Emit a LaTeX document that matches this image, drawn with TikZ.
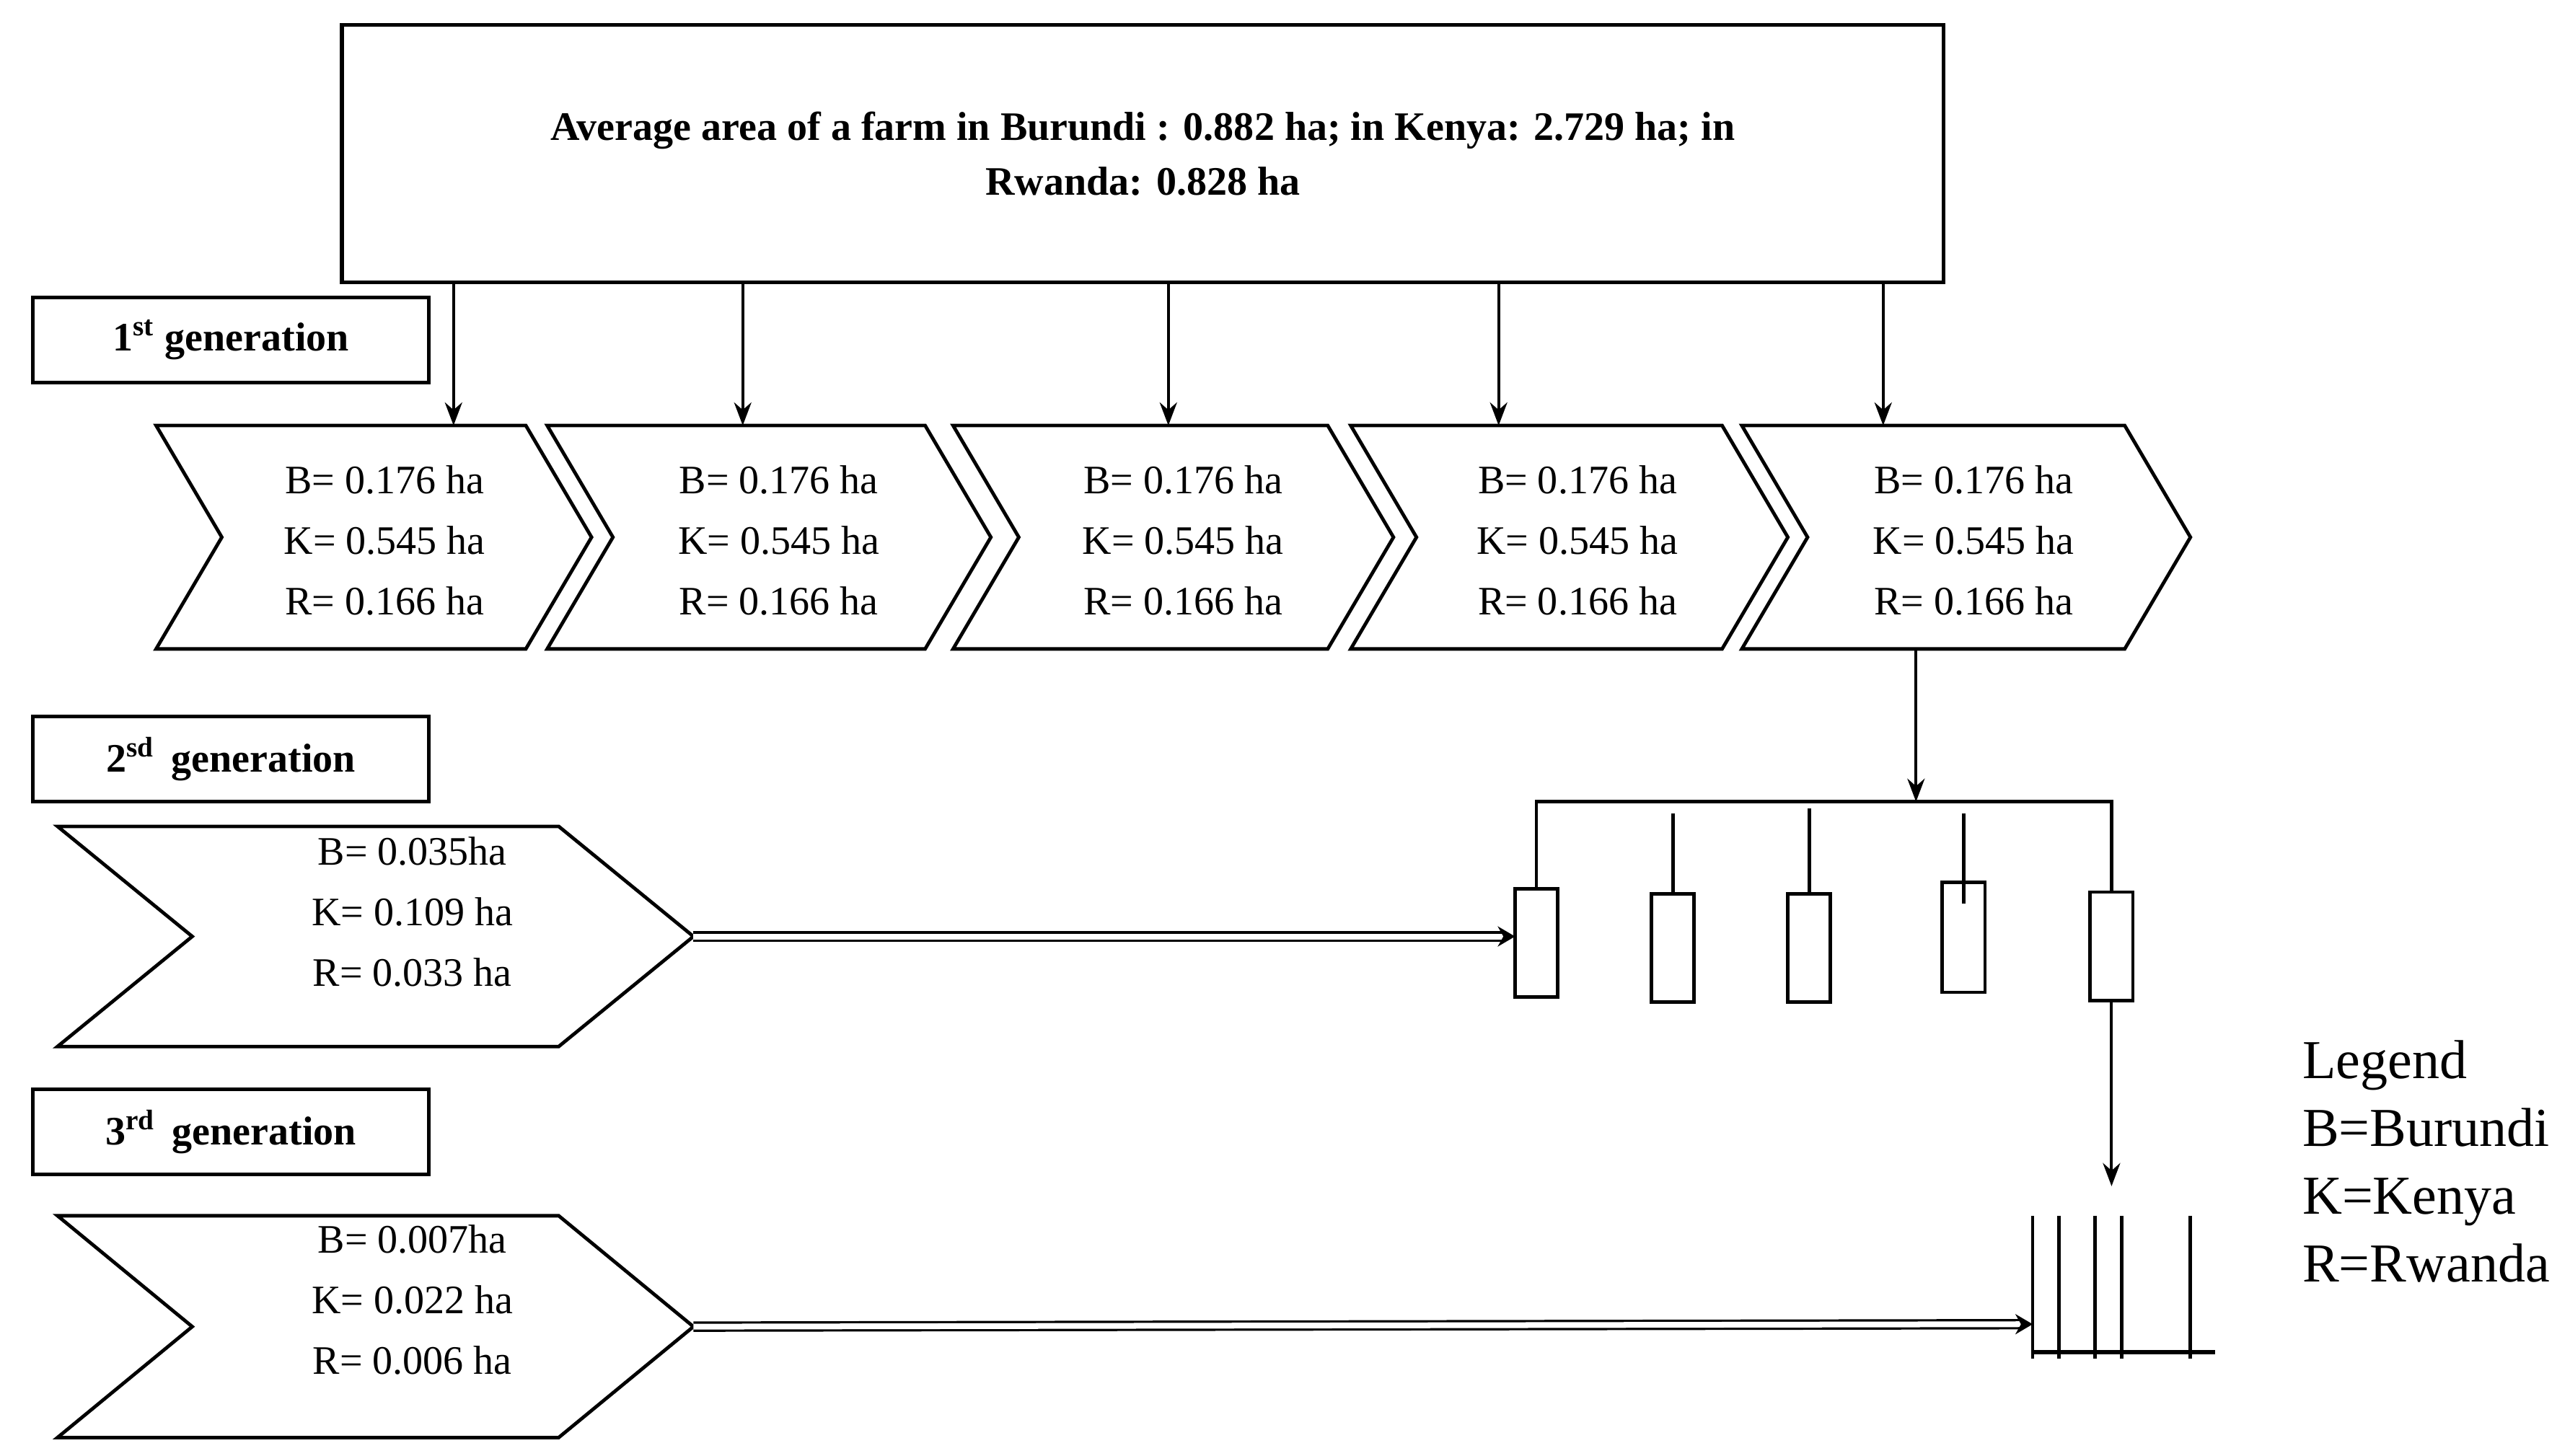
\documentclass[tikz,border=0pt]{standalone}
\usepackage{fontspec}
\setmainfont{Liberation Serif}
\usetikzlibrary{arrows.meta}

\tikzset{
  chev/.style={line width=1.2pt, fill=white},
  ent/.style={align=center, font=\fontsize{14}{21}\selectfont},
  gen/.style={draw, line width=1.3pt, minimum width=4.82cm, minimum height=1.04cm,
    font=\fontsize{14}{16}\selectfont\bfseries},
  arr/.style={-{Stealth[length=8pt,width=6pt]}, line width=1pt},
  dbl/.style={double, double distance=2pt, line width=0.8pt, -{Stealth[length=6pt,width=7pt]}},
}
% chevron: left x, top y, width, height, notch depth, name
\newcommand{\chevron}[6]{%
  \draw[chev] (#1,#2) -- ++(#3-#5,0) -- ++(#5,#4/2) -- ++(-#5,#4/2)
    -- ++(-#3+#5,0) -- ++(#5,-#4/2) -- cycle;
  \coordinate (#6-t) at (#1+#3/2,#2);
  \coordinate (#6-r) at (#1+#3,#2+#4/2);
}

\begin{document}
\begin{tikzpicture}[x=0.02cm, y=-0.02cm]
\useasboundingbox (0,0) rectangle (1564,886);

\node[draw, line width=1.3pt, minimum width=19.5cm, minimum height=3.14cm,
  align=center, font=\fontsize{14}{19}\selectfont\bfseries] (top) at (695.5,93.5)
  {Average area of a farm in Burundi : 0.882 ha; in Kenya: 2.729 ha; in\\ Rwanda: 0.828 ha};

\node[gen] (g1) at (140.5,207) {1\textsuperscript{st} generation};
\node[gen] (g2) at (140.5,462) {2\textsuperscript{sd}\, generation};
\node[gen] (g3) at (140.5,689) {3\textsuperscript{rd}\, generation};

% first generation
\chevron{95}{259}{265}{136}{40}{c1}
\chevron{333}{259}{270}{136}{40}{c2}
\chevron{580}{259}{268}{136}{40}{c3}
\chevron{822}{259}{266}{136}{40}{c4}
\chevron{1060}{259}{273}{136}{40}{c5}
\foreach \n/\x in {1/234, 2/474, 3/720, 4/960, 5/1201}
  \node[ent] (e\n) at (\x,329) {B= 0.176 ha\\ K= 0.545 ha\\ R= 0.166 ha};
\foreach \x in {276, 452, 711, 912, 1146}
  \draw[arr] (\x,172) -- (\x,259);

% second generation
\chevron{35}{503}{387}{134}{82}{d}
\node[ent] (e6) at (251,555) {B= 0.035ha\\ K= 0.109 ha\\ R= 0.033 ha};
\coordinate (c5-b) at (1166,395);
\coordinate (bus) at (1166,488);
\draw[arr] (c5-b) -- (bus);
\draw[line width=1.2pt] (935,541) |- (1285,488) -- (1285,543);
\foreach \n/\x/\a/\b in {1/935/541/607, 2/1018/544/610, 3/1101/544/610, 4/1195/537/604, 5/1285/543/609}
  \draw[line width=1.2pt] (\x-13,\a) rectangle (\x+13,\b) coordinate (r\n);
\draw[line width=1.2pt] (1018,495) -- (1018,544);
\draw[line width=1.2pt] (1101,492) -- (1101,544);
\draw[line width=1.2pt] (1195,495) -- (1195,550);
\draw[dbl] (d-r) -- (922,570);

% third generation
\chevron{35}{740}{387}{135}{82}{f}
\node[ent] (e7) at (251,791) {B= 0.007ha\\ K= 0.022 ha\\ R= 0.006 ha};
\coordinate (r5-b) at (1285,609);
\coordinate (comb) at (1285,722);
\draw[arr] (r5-b) -- (comb);
\foreach \x in {1237, 1253, 1275, 1291, 1333}
  \draw[line width=1.2pt] (\x,740) -- (\x,827);
\draw[line width=1.6pt] (1237,823) -- (1348,823);
\draw[dbl] (f-r) -- (1237,806);

% legend
\node[align=left, anchor=north west, font=\fontsize{19}{23.5}\selectfont] (leg) at (1395,627)
  {Legend\\ B=Burundi\\ K=Kenya\\ R=Rwanda};
\end{tikzpicture}
\end{document}
